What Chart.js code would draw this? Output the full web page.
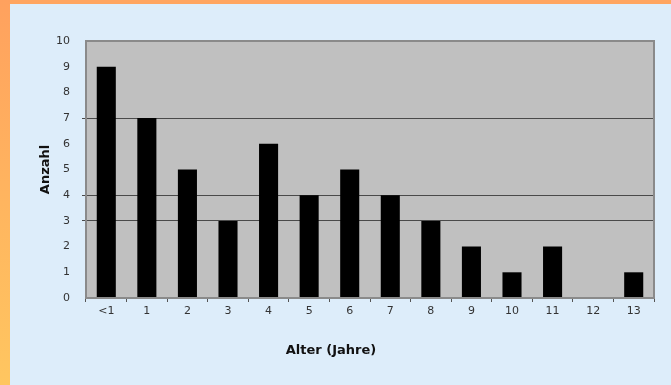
<!DOCTYPE html>
<html>
<head>
<meta charset="utf-8">
<script src="https://cdn.jsdelivr.net/npm/chart.js@4.4.1/dist/chart.umd.min.js"></script>
<style>
  html, body { margin: 0; padding: 0; }
  body { width: 671px; height: 385px; background: #ddedfa; position: relative; overflow: hidden; }
  #wrap { position: absolute; left: 0; top: 0; width: 671px; height: 385px; }
  .frame-top { position: absolute; left: 0; top: 0; width: 671px; height: 4px; background: #ffa560; }
  .frame-left { position: absolute; left: 0; top: 0; width: 10px; height: 385px;
    background: linear-gradient(to bottom, #ffa15e 0%, #ffb45f 50%, #ffc660 100%); }
</style>
</head>
<body>
<div id="wrap"><canvas id="chart" width="671" height="385"></canvas></div>
<div class="frame-top"></div>
<div class="frame-left"></div>
<script>
// Altersverteilung: Anzahl je Alter in Jahren
const categories = ['<1', '1', '2', '3', '4', '5', '6', '7', '8', '9', '10', '11', '12', '13'];
const counts = [9, 7, 5, 3, 6, 4, 5, 4, 3, 2, 1, 2, 0, 1];
const yTicks = [0, 1, 2, 3, 4, 5, 6, 7, 8, 9, 10];
const gridValues = [3, 4, 7];
const xTitle = 'Alter (Jahre)';

const FONT = 'DejaVu Sans';

// gray plot background, its outline and the x-axis caption
const plotBox = {
  id: 'plotBox',
  beforeDraw(chart) {
    const { ctx, chartArea: a } = chart;
    ctx.save();
    ctx.fillStyle = '#c0c0c0';
    ctx.fillRect(a.left, a.top, a.right - a.left, a.bottom - a.top);
    ctx.restore();
  },
  afterDraw(chart) {
    const { ctx, chartArea: a } = chart;
    ctx.save();
    ctx.strokeStyle = '#8a8a8a';
    ctx.lineWidth = 2;
    ctx.strokeRect(a.left, a.top, a.right - a.left, a.bottom - a.top);
    ctx.fillStyle = '#111';
    ctx.font = 'bold 13px "' + FONT + '"';
    ctx.textAlign = 'center';
    ctx.textBaseline = 'middle';
    ctx.fillText(xTitle, 331, 351);
    ctx.restore();
  }
};

new Chart(document.getElementById('chart'), {
  type: 'bar',
  data: {
    labels: categories,
    datasets: [{
      data: counts,
      backgroundColor: '#000000',
      borderWidth: 0,
      barPercentage: 0.94,
      categoryPercentage: 0.5
    }]
  },
  plugins: [plotBox],
  options: {
    responsive: false,
    animation: false,
    events: [],
    layout: { padding: { left: 34, top: 41, right: 17, bottom: 22 } },
    plugins: { legend: { display: false }, tooltip: { enabled: false } },
    scales: {
      x: {
        offset: true,
        border: { display: false },
        grid: { offset: true, drawOnChartArea: false, drawTicks: true, tickLength: 4, color: '#555', lineWidth: 1 },
        ticks: { color: '#333', font: { family: FONT, size: 11 }, padding: 3, maxRotation: 0, autoSkip: false },
        afterFit(scale) { scale.height = 65; }
      },
      y: {
        min: 0,
        max: 10,
        border: { display: false },
        afterBuildTicks(scale) { scale.ticks = yTicks.map(v => ({ value: v })); },
        grid: {
          drawTicks: true,
          tickLength: 4,
          lineWidth: 1,
          color: c => gridValues.includes(c.tick.value) ? '#4a4a4a' : 'rgba(0,0,0,0)'
        },
        ticks: { color: '#333', font: { family: FONT, size: 11 }, padding: 12 },
        title: { display: true, text: 'Anzahl', color: '#111', font: { family: FONT, size: 13, weight: 'bold' }, padding: 4 },
        afterFit(scale) { scale.width = 52; }
      }
    }
  }
});
</script>
</body>
</html>
